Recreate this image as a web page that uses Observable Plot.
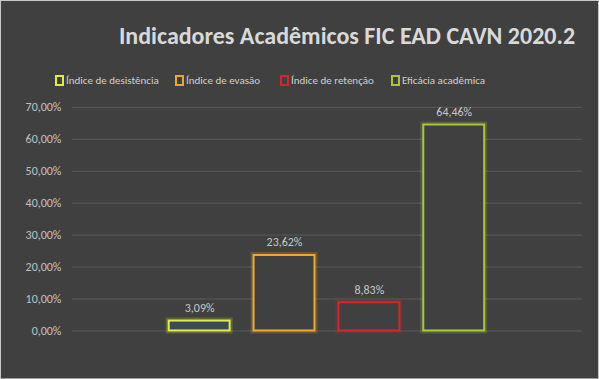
<!DOCTYPE html>
<html>
<head>
<meta charset="utf-8">
<script src="https://cdn.jsdelivr.net/npm/d3@7"></script>
<script src="https://cdn.jsdelivr.net/npm/@observablehq/plot@0.6"></script>
<style>
  html, body { margin: 0; padding: 0; background: #404040; }
  #chart { position: relative; width: 599px; height: 379px; box-sizing: border-box; border: 1px solid #c8c8c8; border-bottom-color:#a0a0a0; background: #404040; overflow: hidden; font-family: Carlito, Calibri, Lato, "Open Sans", sans-serif; }
  #title { position: absolute; left: 0; width: 692px; top: 20px; text-align: center; color: #d9d9d9; font-size: 24px; font-weight: 700; white-space: nowrap; }
  .leg { position: absolute; top: 73px; color: #d0d0d0; font-size: 11px; white-space: nowrap; display: flex; align-items: center; }
  .leg span.sw { display: inline-block; width: 5px; height: 7px; border: 2px solid; margin-right: 2px; }
  #plot { position: absolute; left: -1px; top: -1px; }
</style>
</head>
<body>
<div id="chart">
  <div id="title">Indicadores Acadêmicos FIC EAD CAVN 2020.2</div>
  <div id="legend"></div>
  <div id="plot"></div>
</div>
<script>
const series = ["Índice de desistência", "Índice de evasão", "Índice de retenção", "Eficácia acadêmica"];
const values = [3.09, 23.62, 8.83, 64.46];
const strokeColors = ["#e2ee3c", "#f0a82c", "#d0282c", "#a8c83a"];
const fillColors = ["#3a4a5c", "#404040", "#404040", "#404040"];
const yTicks = [0, 10, 20, 30, 40, 50, 60, 70];
const legendLeft = [54, 174, 279, 390];

const data = series.map((s, i) => ({series: s, value: values[i], stroke: strokeColors[i], fill: fillColors[i]}));
const fmt = v => v.toFixed(2).replace(".", ",") + "%";

const leg = document.getElementById("legend");
series.forEach((s, i) => {
  const d = document.createElement("div");
  d.className = "leg";
  d.style.left = legendLeft[i] + "px";
  d.innerHTML = `<span class="sw" style="border-color:${strokeColors[i]}"></span>${s}`;
  leg.appendChild(d);
});

const plot = Plot.plot({
  width: 599,
  height: 379,
  marginLeft: 72,
  marginRight: 16,
  marginTop: 107,
  marginBottom: 48,
  style: {background: "transparent", color: "#c0c0c0", fontSize: "12px", fontFamily: "Carlito, Calibri, Lato, sans-serif"},
  x: {domain: series, paddingInner: 0.277, paddingOuter: 1.12, axis: null},
  y: {domain: [0, 70], ticks: yTicks, tickFormat: fmt, tickSize: 0, tickPadding: 11, label: null},
  marks: [
    Plot.gridY(yTicks, {stroke: "#5a5a5a", strokeOpacity: 1, strokeWidth: 1}),
    Plot.barY(data, {x: "series", y: "value", fill: "none", stroke: "stroke", strokeWidth: 6, strokeOpacity: 0.22}),
    Plot.barY(data, {x: "series", y: "value", fill: "fill", stroke: "stroke", strokeWidth: 2}),
    Plot.text(data, {x: "series", y: "value", text: d => fmt(d.value), dy: -13, fill: "#c8c8c8", fontSize: 12})
  ]
});
document.getElementById("plot").appendChild(plot);
</script>
</body>
</html>
